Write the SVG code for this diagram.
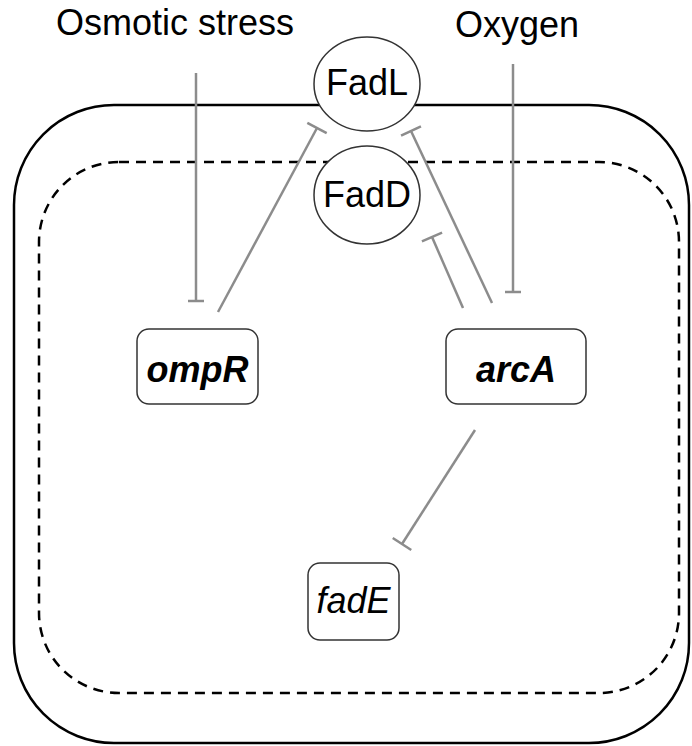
<svg xmlns="http://www.w3.org/2000/svg" width="692" height="746" viewBox="0 0 692 746">
<style>
text{font-family:"Liberation Sans",Arial,sans-serif;font-size:36px;fill:#000;text-anchor:middle}
.node{fill:#fff;stroke:#333;stroke-width:1.5}
.conn{stroke:#8c8c8c;stroke-width:2.5;fill:none}
.gene{font-style:italic}
.b{font-weight:bold}
</style>
<defs>
<marker id="teeS" markerUnits="userSpaceOnUse" markerWidth="4" markerHeight="18" viewBox="0 0 4 18" refX="2" refY="9" orient="auto"><path d="M2,1V17" stroke="#8c8c8c" stroke-width="2.5"/></marker>
<marker id="teeL" markerUnits="userSpaceOnUse" markerWidth="4" markerHeight="24" viewBox="0 0 4 24" refX="2" refY="12" orient="auto"><path d="M2,1V23" stroke="#8c8c8c" stroke-width="2.5"/></marker>
</defs>
<rect width="692" height="746" fill="#fff"/>
<g id="cell">
<rect x="14" y="105" width="675" height="638" rx="100" fill="none" stroke="#000" stroke-width="2.5"/>
<rect x="39" y="162" width="640" height="531" rx="80" fill="none" stroke="#000" stroke-width="2.5" stroke-dasharray="10 7"/>
</g>
<g id="labels">
<text x="175" y="35">Osmotic stress</text>
<text x="517" y="37">Oxygen</text>
</g>
<g id="connectors">
<line class="conn" x1="196" y1="73" x2="196" y2="301" marker-end="url(#teeS)"/>
<line class="conn" x1="513" y1="64" x2="513" y2="292" marker-end="url(#teeS)"/>
<line class="conn" x1="218" y1="312" x2="317" y2="128" marker-end="url(#teeL)"/>
<line class="conn" x1="492" y1="303" x2="411" y2="131" marker-end="url(#teeL)"/>
<line class="conn" x1="463" y1="308" x2="432" y2="237" marker-end="url(#teeL)"/>
<line class="conn" x1="475" y1="430" x2="402" y2="544" marker-end="url(#teeL)"/>
</g>
<g id="FadL">
<ellipse class="node" cx="367" cy="84" rx="53" ry="47"/>
<text x="367" y="95">FadL</text>
</g>
<g id="FadD">
<ellipse class="node" cx="367" cy="195" rx="53" ry="49"/>
<text x="367" y="207">FadD</text>
</g>
<g id="ompR">
<rect class="node" x="137" y="329" width="121" height="75" rx="12"/>
<text class="gene b" x="197.5" y="382">ompR</text>
</g>
<g id="arcA">
<rect class="node" x="446" y="329" width="140" height="75" rx="12"/>
<text class="gene b" x="516" y="382">arcA</text>
</g>
<g id="fadE">
<rect class="node" x="308" y="563" width="91" height="77" rx="12"/>
<text class="gene" x="353.5" y="613">fadE</text>
</g>
</svg>
